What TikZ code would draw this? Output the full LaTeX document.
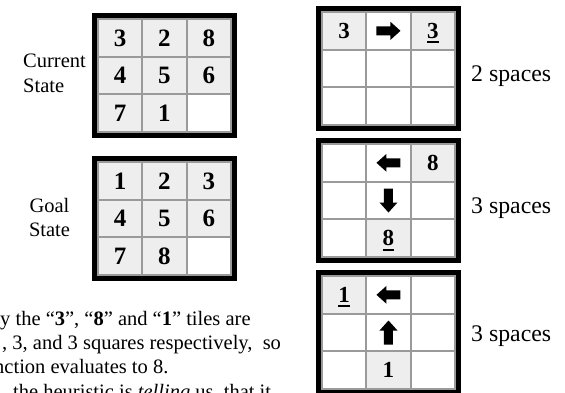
\documentclass[tikz,border=0pt]{standalone}
\usepackage{fontspec}
\setmainfont{Liberation Serif}
\definecolor{tilegray}{HTML}{EEEEEE}
\definecolor{linegray}{HTML}{9A9A9A}
\newcommand\ulnum[1]{\setbox0\hbox{#1}\rlap{\raisebox{-5pt}{\rule{\wd0}{2.2pt}}}\box0}
\tikzset{
  cell/.style={rectangle, draw=linegray, line width=2pt, minimum width=44.33pt,
    minimum height=37.67pt, inner sep=0pt, outer sep=0pt, text depth=0pt,
    font=\fontsize{25}{25}\selectfont\bfseries},
  rcell/.style={cell, font=\fontsize{23}{23}\selectfont\bfseries},
  caption/.style={inner sep=0pt, anchor=base west, font=\fontsize{20.5}{24}\selectfont},
  spaces/.style={inner sep=0pt, anchor=base west, font=\fontsize{23.8}{24}\selectfont},
}
% #1 x, #2 y (outer top-left), #3 name prefix, #4 cell style, #5 list row/col/fill/text
\newcommand\puzzlegrid[5]{%
  \fill[black] (#1,#2) rectangle ++(145,125);
  \foreach \rr/\cc/\fl/\txt in {#5} {
    \node[#4, fill=\fl] (#3-\rr-\cc) at ({#1+6+(\cc-0.5)*44.33},{#2+6+(\rr-0.5)*37.67}) {\txt};
  }
}
\newcommand\blockarrow[2]{%
  \fill[black, shift={(#1.center)}, rotate=#2]
    (-12,-4.5) -- (2,-4.5) -- (2,-9) -- (12,0) -- (2,9) -- (2,4.5) -- (-12,4.5) -- cycle;
}
\begin{document}
\begin{tikzpicture}[x=1pt, y=-1pt]
\useasboundingbox (0,0) rectangle (565,393);
\clip (0,0) rectangle (565,393);
\fill[white] (0,0) rectangle (565,393);

% current state
\puzzlegrid{92}{13}{cur}{cell}{1/1/tilegray/3, 1/2/tilegray/2, 1/3/tilegray/8,
  2/1/tilegray/4, 2/2/tilegray/5, 2/3/tilegray/6,
  3/1/tilegray/7, 3/2/tilegray/1, 3/3/white/{}}
\node[caption] (curlab1) at (23,68) {Current};
\node[caption] (curlab2) at (23,93) {State};

% goal state
\puzzlegrid{92}{156}{goal}{cell}{1/1/tilegray/1, 1/2/tilegray/2, 1/3/tilegray/3,
  2/1/tilegray/4, 2/2/tilegray/5, 2/3/tilegray/6,
  3/1/tilegray/7, 3/2/tilegray/8, 3/3/white/{}}
\node[caption, anchor=base] (goallab1) at (49.5,212) {Goal};
\node[caption, anchor=base] (goallab2) at (49.5,236.7) {State};

% right grids
\puzzlegrid{316}{6}{ga}{rcell}{1/1/tilegray/3, 1/2/white/{}, 1/3/tilegray/\ulnum{3},
  2/1/white/{}, 2/2/white/{}, 2/3/white/{},
  3/1/white/{}, 3/2/white/{}, 3/3/white/{}}
\blockarrow{ga-1-2}{0}
\node[spaces] (sa) at (471,81.7) {2 spaces};

\puzzlegrid{316}{138}{gb}{rcell}{1/1/white/{}, 1/2/white/{}, 1/3/tilegray/8,
  2/1/white/{}, 2/2/white/{}, 2/3/white/{},
  3/1/white/{}, 3/2/tilegray/\ulnum{8}, 3/3/white/{}}
\blockarrow{gb-1-2}{180}
\blockarrow{gb-2-2}{-90}
\node[spaces] (sb) at (471,213) {3 spaces};

\puzzlegrid{316}{270}{gc}{rcell}{1/1/tilegray/\ulnum{1}, 1/2/white/{}, 1/3/white/{},
  2/1/white/{}, 2/2/white/{}, 2/3/white/{},
  3/1/white/{}, 3/2/tilegray/1, 3/3/white/{}}
\blockarrow{gc-1-2}{180}
\blockarrow{gc-2-2}{90}
\node[spaces] (sc) at (471,341.7) {3 spaces};

% paragraph (cut off at the left and bottom edges, as in the reference)
\node[caption] (p1) at (0,325) {y the “\textbf{3}”, “\textbf{8}” and “\textbf{1}” tiles are};
\node[caption] (p2) at (2,349.3) {, 3, and 3 squares respectively,\ \ so};
\node[caption] (p3) at (-6,373.7) {nction evaluates to 8.};
\node[caption] (p4) at (13,398) {the heuristic is \textit{telling} us, that it};
\end{tikzpicture}
\end{document}
